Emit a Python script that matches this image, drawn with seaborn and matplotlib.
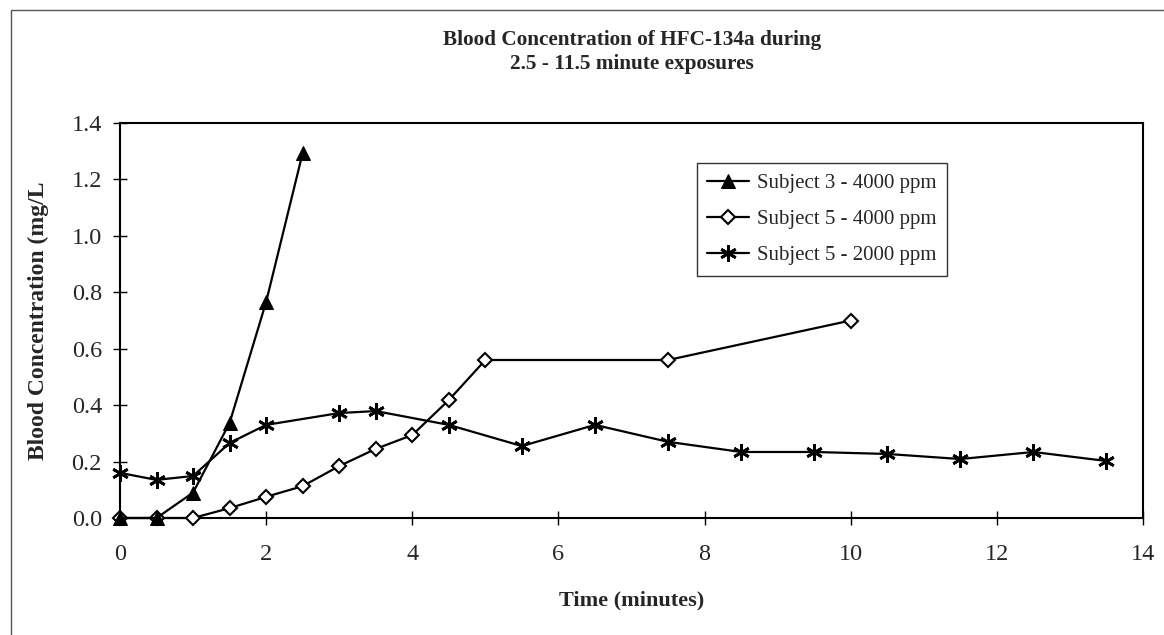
import matplotlib
matplotlib.use("Agg")
import matplotlib.pyplot as plt
import matplotlib.patches as mpatches
import seaborn as sns
import pandas as pd

# data
s3_4000_time = [0, 0.5, 1, 1.5, 2, 2.5]
s3_4000_conc = [0.0, 0.0, 0.09, 0.337, 0.766, 1.294]

s5_4000_time = [0, 0.5, 1, 1.5, 2, 2.5, 3, 3.5, 4, 4.5, 5, 7.5, 10]
s5_4000_conc = [0.0, 0.0, 0.0, 0.035, 0.075, 0.113, 0.184, 0.245, 0.294,
                0.418, 0.56, 0.56, 0.70]

s5_2000_time = [0, 0.5, 1, 1.5, 2, 3, 3.5, 4.5, 5.5, 6.5, 7.5, 8.5, 9.5,
                10.5, 11.5, 12.5, 13.5]
s5_2000_conc = [0.16, 0.135, 0.149, 0.266, 0.33, 0.372, 0.379, 0.33, 0.255,
                0.33, 0.27, 0.234, 0.234, 0.227, 0.209, 0.234, 0.202]

labels = ["Subject 3 - 4000 ppm", "Subject 5 - 4000 ppm", "Subject 5 - 2000 ppm"]
x_ticks = [0, 2, 4, 6, 8, 10, 12, 14]
y_ticks = [0.0, 0.2, 0.4, 0.6, 0.8, 1.0, 1.2, 1.4]

sns.set_theme(style="white")
plt.rcParams["font.family"] = ["Liberation Serif", "DejaVu Serif"]

fig = plt.figure(figsize=(11.64, 6.35), dpi=100)
ax = fig.add_axes([120 / 1164, 1 - 518 / 635, 1023 / 1164, 395 / 635])

sns.lineplot(x=s3_4000_time, y=s3_4000_conc, ax=ax, color="black", lw=1.6,
             marker="^", markersize=10, markeredgecolor="black",
             markerfacecolor="black", label=labels[0], clip_on=False,
             zorder=5)
sns.lineplot(x=s5_4000_time, y=s5_4000_conc, ax=ax, color="black", lw=1.6,
             marker="D", markersize=7, markeredgecolor="black",
             markerfacecolor="white", markeredgewidth=1.5, label=labels[1],
             clip_on=False, zorder=3)
sns.lineplot(x=s5_2000_time, y=s5_2000_conc, ax=ax, color="black", lw=1.6,
             marker=(6, 2, 0), markersize=12, markeredgecolor="black",
             markeredgewidth=2, label=labels[2], clip_on=False, zorder=4)

ax.set_xlim(0, 14)
ax.set_ylim(0, 1.4)
ax.set_xticks(x_ticks)
ax.set_yticks(y_ticks)
ax.set_yticklabels([f"{v:.1f}" for v in y_ticks])
ax.tick_params(axis="both", direction="inout", length=10, width=1,
               color="black", labelsize=17.5, left=True, bottom=True)
ax.tick_params(axis="x", pad=14)
ax.tick_params(axis="y", pad=8)
for sp in ax.spines.values():
    sp.set_color("black")
    sp.set_linewidth(1.5)

ax.set_xlabel("Time (minutes)", fontsize=16, fontweight="bold", labelpad=18)
ax.set_ylabel("Blood Concentration (mg/L", fontsize=17, fontweight="bold",
              labelpad=16)

fig.text(632 / 1164, 1 - 40 / 635, "Blood Concentration of HFC-134a during",
         ha="center", va="center", fontsize=15.3, fontweight="bold")
fig.text(632 / 1164, 1 - 64 / 635, "2.5 - 11.5 minute exposures",
         ha="center", va="center", fontsize=15.3, fontweight="bold")

leg = ax.legend(loc="upper left", bbox_to_anchor=(0.564, 0.899),
                borderaxespad=0, fontsize=15, frameon=True, fancybox=False,
                shadow=False, numpoints=1, handlelength=2.0, borderpad=0.5,
                labelspacing=0.8, handletextpad=0.4)
leg.get_frame().set_edgecolor("black")
leg.get_frame().set_linewidth(1.0)

# outer chart border (only left and top edges fall inside the image)
fig.patches.append(mpatches.Rectangle((11 / 1164, -0.5), 1.5, 1.5 - 10 / 635,
                                      transform=fig.transFigure, fill=False,
                                      edgecolor="#555555", lw=1.0))

fig.savefig("out.png", dpi=100)
